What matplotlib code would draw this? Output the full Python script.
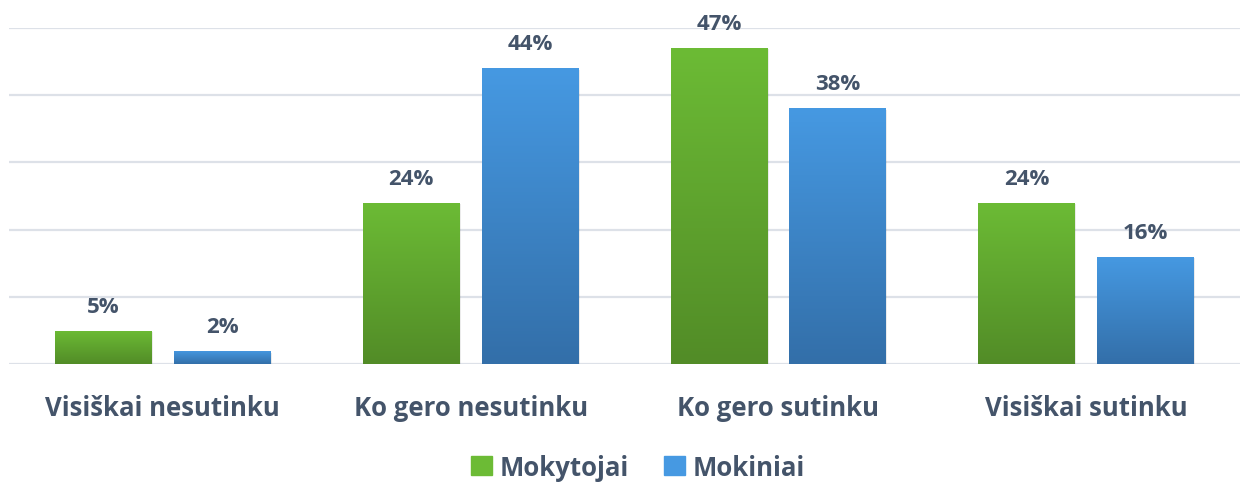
import numpy as np
import matplotlib
matplotlib.use("Agg")
import matplotlib.pyplot as plt
from matplotlib.colors import LinearSegmentedColormap
from matplotlib.patches import Rectangle

categories = ["Visiškai nesutinku", "Ko gero nesutinku", "Ko gero sutinku", "Visiškai sutinku"]
series_names = ["Mokytojai", "Mokiniai"]
mokytojai = [5, 24, 47, 24]
mokiniai = [2, 44, 38, 16]

text_col = "#44546A"
grads = [("#6CBB35", "#528C27"), ("#4699E2", "#336FA9")]

plt.rcParams['font.family'] = ['Open Sans', 'DejaVu Sans']

fig = plt.figure(figsize=(12.46, 4.85), dpi=100)
ax = fig.add_axes([0.0072, 0.2464, 0.988, 0.6948])
ax.set_xlim(-0.5, 3.5)
ax.set_ylim(0, 50)

for y in range(0, 51, 10):
    ax.axhline(y, color="#DDE1E8", lw=1.6, zorder=0)

x = np.arange(len(categories))
width = 0.314
offset = 0.193

for vals, (top, bot), off in zip([mokytojai, mokiniai], grads, [-offset, offset]):
    cmap = LinearSegmentedColormap.from_list("g", [bot, top])
    bars = ax.bar(x + off, vals, width, color="none", edgecolor="none", zorder=2)
    for b, v in zip(bars, vals):
        bx, bw, bh = b.get_x(), b.get_width(), b.get_height()
        # soft shadow
        ax.add_patch(Rectangle((bx + 0.004, -0.25), bw, bh, color="#000000",
                               alpha=0.08, lw=0, zorder=1.5))
        grad = np.linspace(0, 1, 100).reshape(-1, 1)
        im = ax.imshow(grad, cmap=cmap, origin="lower", aspect="auto",
                       extent=[bx, bx + bw, 0, bh], zorder=2)
        im.set_clip_path(b)
        ax.text(bx + bw / 2, v + 2.1, f"{v}%", ha="center", va="bottom",
                fontsize=16, fontweight="bold", color=text_col)

ax.set_xlim(-0.5, 3.5)
ax.set_ylim(0, 50)
ax.set_xticks(x)
ax.set_xticklabels(categories, fontsize=18.5, fontweight="bold", color=text_col)
ax.tick_params(axis="x", length=0, pad=21)
ax.set_yticks([])
for s in ax.spines.values():
    s.set_visible(False)

handles = [Rectangle((0, 0), 1, 1, color=grads[0][0]), Rectangle((0, 0), 1, 1, color=grads[1][0])]
leg = fig.legend(handles, series_names, loc="center", bbox_to_anchor=(0.512, 0.035),
                 ncol=2, frameon=False, handlelength=0.8, handleheight=0.8,
                 handletextpad=0.3, columnspacing=1.4,
                 prop={"size": 18.5, "weight": "bold"})
for t in leg.get_texts():
    t.set_color(text_col)

fig.savefig("out.png", dpi=100)
